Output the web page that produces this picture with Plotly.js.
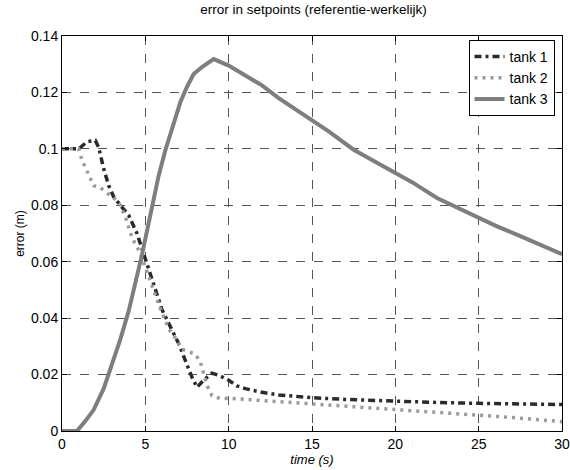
<!DOCTYPE html>
<html>
<head>
<meta charset="utf-8">
<script src="https://cdn.plot.ly/plotly-3.0.1.min.js"></script>
<style>html,body{margin:0;padding:0;background:#fff;overflow:hidden;}#chart{width:570px;height:470px;}</style>
</head>
<body>
<div id="chart"></div>
<script>
// tank 1
const t1 = [0, 0.5, 1.0, 1.5, 2.0, 2.2, 2.5, 2.8, 3.1, 3.5, 4.0, 4.5, 5.0, 5.5, 6.0, 6.5, 7.0, 7.5, 7.8, 8.1, 8.5, 9.0, 9.5, 10, 10.5, 11, 12, 13, 14, 15, 17, 20, 22, 25, 27, 30];
const y1 = [0.1, 0.1, 0.1, 0.1025, 0.103, 0.1005, 0.093, 0.087, 0.083, 0.080, 0.0765, 0.070, 0.061, 0.0515, 0.043, 0.037, 0.031, 0.0235, 0.019, 0.0155, 0.018, 0.0205, 0.0195, 0.018, 0.016, 0.015, 0.0137, 0.0128, 0.0122, 0.0118, 0.0112, 0.0105, 0.0102, 0.0098, 0.0096, 0.0094];
// tank 2
const t2 = [0, 0.5, 1.0, 1.2, 1.5, 1.9, 2.3, 2.8, 3.4, 3.8, 4.2, 4.7, 5.2, 5.8, 6.4, 6.8, 7.2, 7.6, 8.0, 8.3, 8.7, 9.0, 9.5, 10, 11, 12, 13, 14, 15, 17, 20, 22, 25, 27, 30];
const y2 = [0.1, 0.1, 0.1, 0.096, 0.092, 0.087, 0.0862, 0.084, 0.0812, 0.076, 0.0685, 0.063, 0.0545, 0.045, 0.0362, 0.033, 0.029, 0.028, 0.0272, 0.0245, 0.0162, 0.0125, 0.0115, 0.0116, 0.0112, 0.0107, 0.0103, 0.0099, 0.0097, 0.0088, 0.0077, 0.0069, 0.0058, 0.0048, 0.0033];
// tank 3
const t3 = [0, 0.5, 0.9, 1.4, 1.9, 2.5, 3.0, 3.5, 4.0, 4.4, 4.8, 5.3, 5.8, 6.2, 6.7, 7.1, 7.5, 7.9, 8.4, 9.1, 10, 11, 12, 13, 14, 15, 16, 17.5, 19, 20, 21, 22.5, 24, 25, 26, 27.5, 29, 30];
const y3 = [0, 0, 0, 0.0035, 0.0075, 0.015, 0.0235, 0.0325, 0.0425, 0.052, 0.0625, 0.0765, 0.0905, 0.0995, 0.109, 0.1165, 0.122, 0.1265, 0.129, 0.1318, 0.1295, 0.1262, 0.1225, 0.118, 0.114, 0.1103, 0.1062, 0.0997, 0.0948, 0.0915, 0.0882, 0.0826, 0.0783, 0.0756, 0.0728, 0.0691, 0.0652, 0.0627];
const names = ["tank 1", "tank 2", "tank 3"];
const xTicks = [0, 5, 10, 15, 20, 25, 30];
const yTicks = [0, 0.02, 0.04, 0.06, 0.08, 0.1, 0.12, 0.14];
const yTickText = ["0", "0.02", "0.04", "0.06", "0.08", "0.1", "0.12", "0.14"];

const traces = [
  {x: t1, y: y1, name: names[0], mode: "lines", line: {color: "#2a2a2a", width: 3.5, dash: "7px,4px,3px,4px"}},
  {x: t2, y: y2, name: names[1], mode: "lines", line: {color: "#9a9a9a", width: 3.5, dash: "3px,5px"}},
  {x: t3, y: y3, name: names[2], mode: "lines", line: {color: "#7e7e7e", width: 4}}
];
const font = {family: "Liberation Sans, Arial, sans-serif", color: "#000"};
const layout = {
  width: 570, height: 470,
  margin: {l: 62, r: 8, t: 36, b: 39},
  paper_bgcolor: "#fff", plot_bgcolor: "#fff",
  font: Object.assign({size: 13}, font),
  title: {text: "error in setpoints (referentie-werkelijk)", x: 0.55, xanchor: "center", y: 0.99, yanchor: "top", font: Object.assign({}, font, {size: 13.5})},
  xaxis: {
    range: [0, 30], tickvals: xTicks, ticktext: xTicks.map(String),
    showline: true, linecolor: "#000", linewidth: 1, mirror: "ticks",
    ticks: "inside", ticklen: 5, tickcolor: "#000", ticklabeloverflow: "allow",
    showgrid: true, gridcolor: "#555", griddash: "dash", gridwidth: 1,
    zeroline: false, tickfont: Object.assign({}, font, {size: 14}),
    title: {text: "<i>time (s)</i>", standoff: 2, font: Object.assign({}, font, {size: 13})}
  },
  yaxis: {
    range: [0, 0.14], tickvals: yTicks, ticktext: yTickText,
    showline: true, linecolor: "#000", linewidth: 1, mirror: "ticks",
    ticks: "inside", ticklen: 5, tickcolor: "#000",
    showgrid: true, gridcolor: "#555", griddash: "dash", gridwidth: 1,
    zeroline: false, tickfont: Object.assign({}, font, {size: 14}),
    title: {text: "error (m)", standoff: 3, font: Object.assign({}, font, {size: 12})}
  },
  legend: {
    x: 0.985, xanchor: "right", y: 0.99, yanchor: "top",
    bgcolor: "#fff", bordercolor: "#000", borderwidth: 1,
    font: Object.assign({}, font, {size: 14}), tracegroupgap: 0, itemwidth: 30
  },
  showlegend: true
};
Plotly.newPlot("chart", traces, layout, {displayModeBar: false, staticPlot: true});
</script>
</body>
</html>
